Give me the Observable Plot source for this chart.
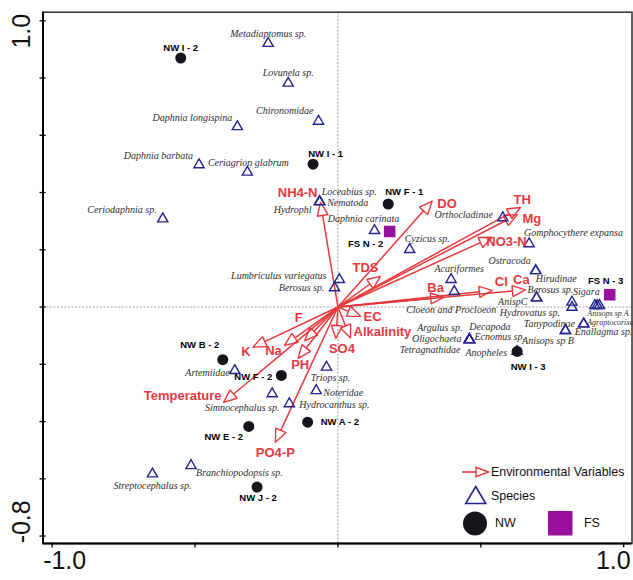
<!DOCTYPE html>
<html>
<head>
<meta charset="utf-8">
<script src="https://cdn.jsdelivr.net/npm/d3@7"></script>
<script src="https://cdn.jsdelivr.net/npm/@observablehq/plot@0.6"></script>
<style>
  body { margin: 0; background: #fff; }
  #chart svg { display: block; }
</style>
</head>
<body>
<div id="chart"></div>
<script>
// ---- Ordination scores (CCA axis 1 / axis 2) ----
const siteNames  = ["NW I - 2", "NW I - 1", "NW F - 1", "FS N - 2", "FS N - 3", "NW I - 3", "NW B - 2", "NW F - 2", "NW E - 2", "NW A - 2", "NW J - 2"];
const siteGroups = ["NW", "NW", "NW", "FS", "FS", "NW", "NW", "NW", "NW", "NW", "NW"];
const siteAxis1  = [-0.550, -0.087, 0.176, 0.181, 0.951, 0.627, -0.403, -0.198, -0.312, -0.106, -0.283];
const siteAxis2  = [0.870, 0.499, 0.360, 0.264, 0.043, -0.155, -0.184, -0.239, -0.417, -0.402, -0.629];

const speciesNames = [
  "Metadiaptomus sp.", "Lovunela sp.", "Chironomidae", "Daphnia longispina", "Daphnia barbata",
  "Ceriagrion glabrum", "Ceriodaphnia sp.", "Loceabius sp.", "Nematoda", "Hydrophl",
  "Daphnia carinata", "Cyzicus sp.", "Orthocladinae", "Gomphocythere expansa", "Ostracoda",
  "Hirudinae", "Acariformes", "Cloeon and Procloeon", "Berosus sp.", "AnispC",
  "Sigara", "Hydrovatus sp.", "Anisops sp A", "Anisops sp A", "Anisops sp A",
  "Agraptocorixa", "Enallagma sp.", "Tanypodinae", "Anisops sp B", "Ecnomus sp.",
  "Decapoda", "Argulus sp.", "Oligochaeta", "Tetragnathidae", "Anopheles",
  "Lumbriculus variegatus", "Berosus sp.", "Triops sp.", "Noteridae", "Hydrocanthus sp.",
  "Simnocephalus sp.", "Artemiidae", "Branchiopodopsis sp.", "Streptocephalus sp."
];
const speciesAxis1 = [
  -0.244, -0.174, -0.068, -0.352, -0.486,
  -0.317, -0.613, -0.064, -0.064, -0.064,
  0.128, 0.251, 0.577, 0.669, 0.692,
  0.692, 0.396, 0.407, 0.695, 0.695,
  0.819, 0.819, 0.899, 0.907, 0.915,
  0.860, 0.860, 0.796, 0.796, 0.460,
  0.460, 0.460, 0.460, 0.460, 0.627,
  0.005, -0.012, -0.040, -0.076, -0.170,
  -0.230, -0.361, -0.514, -0.649
];
const speciesAxis2 = [
  0.921, 0.782, 0.649, 0.630, 0.497,
  0.471, 0.308, 0.368, 0.368, 0.368,
  0.267, 0.201, 0.312, 0.221, 0.127,
  0.127, 0.096, 0.054, 0.032, 0.032,
  0.017, -0.001, 0.005, 0.005, 0.005,
  -0.059, -0.059, -0.082, -0.082, -0.114,
  -0.114, -0.114, -0.114, -0.114, -0.155,
  0.096, 0.067, -0.210, -0.292, -0.338,
  -0.303, -0.222, -0.554, -0.583
];

const envNames = ["NH4-N", "DO", "TH", "Mg", "NO3-N", "TDS", "Ba", "Cl", "Ca", "EC", "Alkalinity", "SO4", "F", "Na", "K", "PH", "Temperature", "PO4-P"];
const envAxis1 = [-0.061, 0.330, 0.639, 0.628, 0.540, 0.149, 0.370, 0.540, 0.656, 0.079, 0.044, -0.007, -0.116, -0.187, -0.297, -0.139, -0.400, -0.219];
const envAxis2 = [0.365, 0.370, 0.348, 0.323, 0.244, 0.107, 0.034, 0.058, 0.060, -0.032, -0.108, -0.110, -0.117, -0.134, -0.140, -0.179, -0.333, -0.472];

// ---- Axis ticks ----
const xTickValues = [-1.0, -0.5, 0, 0.5, 1.0];
const yTickValues = [-0.8, -0.6, -0.4, -0.2, 0, 0.2, 0.4, 0.6, 0.8, 1.0];
const xTickLabels = [{value: -1.0, text: "-1.0"}, {value: 1.0, text: "1.0"}];
const yTickLabels = [{value: 1.0, text: "1.0"}, {value: -0.8, text: "-0.8"}];

// ---- Label placement (text anchor, pixel offset from the point) ----
const siteLabelPlacement = [
  ["middle", 0, -10.5], ["middle", 12.6, -10.5], ["middle", 16, -12], ["middle", -24, 12],
  ["middle", -4, -13.6], ["middle", 11, 16], ["middle", -23, -15], ["end", -9, 1],
  ["middle", -25, 11], ["start", 13, 0], ["middle", 1, 11]
];
const speciesLabelPlacement = [
  ["middle", 0, -10], ["middle", 0, -10], ["end", -5, -10], ["end", -5, -9], ["end", -6, -9],
  ["middle", 1, -9.5], ["end", -6, -9], ["start", 2, -10], ["start", 7.5, 1], ["end", -8, 8],
  ["middle", -11, -12], ["start", -5, -11], ["end", -10, -2.5], ["start", -5, -10.5], ["end", -5, -9.5],
  ["start", 0, 8], ["middle", 8, -11], ["middle", -3, 18], ["start", -9, -8], ["end", -9, 3.5],
  ["start", 1, -10.5], ["end", -12, 5], ["start", -7.5, 8.3], null, null,
  ["start", 3.5, -1.2], ["start", -9, 7.8], ["middle", -16, -7.2], ["middle", -17.5, 10.5], ["start", 5, -3],
  ["middle", 20.5, -12.5], ["end", -7, -11.7], ["end", -8, -0.7], ["end", -9, 10], ["end", -10, 1.7],
  ["end", -13, -3.3], ["end", -10, 0], ["middle", 4, 10.6], ["start", 7, 2.3], ["start", 10, 0.7],
  ["middle", -30, 14], ["end", -5, 1.7], ["start", 5, 7.3], ["middle", 0, 12]
];
const smallSpeciesLabels = new Set(["Anisops sp A", "Agraptocorixa"]);
const envLabelPlacement = [
  ["end", -3, -10], ["start", 5, 2.5], ["start", -7, -8], ["start", 5, 4], ["start", -6, 5],
  ["middle", -15, -9], ["middle", -8, -9], ["middle", 9, -9], ["middle", -4, -10], ["start", 3, 1],
  ["start", 3, -6.5], ["middle", 6, 10], ["middle", -6, -23], ["middle", -11, 5], ["middle", -7, 5],
  ["middle", 2, 6.5], ["end", -2, -6.7], ["middle", 0, 11]
];

// ---- Layout ----
const W = 633, H = 580;
const margin = {top: 11.7, right: 1.5, bottom: 37, left: 42.5};
const xDomain = [-1.032, 1.029];
const yDomain = [-0.826, 1.030];
const kx = (W - margin.left - margin.right) / (xDomain[1] - xDomain[0]); // px per unit
const ky = (H - margin.top - margin.bottom) / (yDomain[1] - yDomain[0]);

const RED = "#e8383d", BLUE = "#24248f", BLACK = "#14161c", PURPLE = "#990f9e", GREY_TEXT = "#2e2e2e";
const SANS = "'Liberation Sans', Arial, sans-serif";
const SERIF = "'Liberation Serif', 'Times New Roman', serif";

// ---- Tables built from the arrays ----
const sites = siteNames.map((name, i) => ({name, group: siteGroups[i], x: siteAxis1[i], y: siteAxis2[i]}));
const species = speciesNames.map((name, i) => ({name, x: speciesAxis1[i], y: speciesAxis2[i]}));
const env = envNames.map((name, i) => ({name, x: envAxis1[i], y: envAxis2[i]}));

function placeLabels(rows, placement) {
  return rows.flatMap((d, i) => {
    const p = placement[i];
    if (!p) return [];
    const [anchor, dx, dy] = p;
    return [{text: d.name, anchor, lx: d.x + dx / kx, ly: d.y - dy / ky}];
  });
}

// Arrow geometry: shaft stops at the base of an open triangular head
const HEAD_LEN = 13, HEAD_HALF = 5.5;
const arrows = env.map(d => {
  const vx = d.x * kx, vy = d.y * ky;
  const len = Math.hypot(vx, vy);
  const ex = vx / len, ey = vy / len;
  const bx = vx - HEAD_LEN * ex, by = vy - HEAD_LEN * ey;
  const nx = -ey, ny = ex;
  return {
    name: d.name,
    baseX: bx / kx, baseY: by / ky,
    head: [
      {name: d.name, x: d.x, y: d.y},
      {name: d.name, x: (bx + HEAD_HALF * nx) / kx, y: (by + HEAD_HALF * ny) / ky},
      {name: d.name, x: (bx - HEAD_HALF * nx) / kx, y: (by - HEAD_HALF * ny) / ky},
      {name: d.name, x: d.x, y: d.y}
    ]
  };
});
const headPoints = arrows.flatMap(a => a.head);

function textMarks(rows, style) {
  return ["start", "middle", "end"].map(anchor =>
    Plot.text(rows.filter(r => r.anchor === anchor), {x: "lx", y: "ly", text: "text", textAnchor: anchor, ...style})
  );
}

const speciesLabels = placeLabels(species, speciesLabelPlacement);

const chart = Plot.plot({
  width: W,
  height: H,
  marginTop: margin.top,
  marginRight: margin.right,
  marginBottom: margin.bottom,
  marginLeft: margin.left,
  x: {domain: xDomain, axis: null},
  y: {domain: yDomain, axis: null},
  style: {background: "#fff", fontFamily: SANS},
  marks: [
    // dashed zero lines
    Plot.ruleX([0], {stroke: "#777", strokeWidth: 0.7, strokeDasharray: "2,1.6"}),
    Plot.ruleY([0], {stroke: "#777", strokeWidth: 0.7, strokeDasharray: "2,1.6"}),

    // environmental variable arrows
    Plot.link(arrows, {x1: () => 0, y1: () => 0, x2: "baseX", y2: "baseY", stroke: RED, strokeWidth: 1.5}),
    Plot.line(headPoints, {x: "x", y: "y", z: "name", stroke: RED, strokeWidth: 1.4, fill: "none", strokeLinejoin: "miter"}),

    // species
    Plot.dot(species, {x: "x", y: "y", symbol: "triangle", r: 3.8, stroke: BLUE, strokeWidth: 1.4, fill: "none"}),

    // sampling sites
    Plot.dot(sites.filter(d => d.group === "NW"), {x: "x", y: "y", r: 5.5, fill: BLACK}),
    Plot.dot(sites.filter(d => d.group === "FS"), {x: "x", y: "y", symbol: "square", r: 6.5, fill: PURPLE}),

    // labels
    ...textMarks(speciesLabels.filter(d => !smallSpeciesLabels.has(d.text)),
      {fontFamily: SERIF, fontStyle: "italic", fontSize: 10, fill: GREY_TEXT}),
    ...textMarks(speciesLabels.filter(d => smallSpeciesLabels.has(d.text)),
      {fontFamily: SERIF, fontStyle: "italic", fontSize: 8, fill: GREY_TEXT}),
    ...textMarks(placeLabels(sites, siteLabelPlacement),
      {fontFamily: SANS, fontWeight: "bold", fontSize: 9.5, fill: "#000"}),
    ...textMarks(placeLabels(env, envLabelPlacement),
      {fontFamily: SANS, fontWeight: "bold", fontSize: 13, fill: RED}),

    // frame, heavier left and bottom axis lines
    Plot.frame({stroke: "#3a3a3a", strokeWidth: 1.6}),
    Plot.ruleX([xDomain[0]], {stroke: "#000", strokeWidth: 2}),
    Plot.ruleY([yDomain[0]], {stroke: "#000", strokeWidth: 2}),

    // tick marks
    Plot.link(yTickValues, {x1: () => xDomain[0] - 3.5 / kx, x2: () => xDomain[0] + 2.5 / kx, y1: d => d, y2: d => d, stroke: "#000", strokeWidth: 1.3}),
    Plot.link(xTickValues, {x1: d => d, x2: d => d, y1: () => yDomain[0] + 1 / ky, y2: () => yDomain[0] - 4 / ky, stroke: "#000", strokeWidth: 1.3}),

    // tick labels
    Plot.text(xTickLabels.filter(d => d.value < 0), {x: "value", text: "text", frameAnchor: "bottom", dy: 25.5, dx: -9, textAnchor: "start", fontSize: 25, fill: "#111"}),
    Plot.text(xTickLabels.filter(d => d.value > 0), {x: "value", text: "text", frameAnchor: "bottom", dy: 25.5, dx: 7, textAnchor: "end", fontSize: 25, fill: "#111"}),
    Plot.text(yTickLabels.filter(d => d.value > 0), {y: "value", text: "text", frameAnchor: "left", dx: -21, dy: -7, rotate: -90, textAnchor: "end", fontSize: 25, fill: "#111"}),
    Plot.text(yTickLabels.filter(d => d.value < 0), {y: "value", text: "text", frameAnchor: "left", dx: -21, dy: 7.3, rotate: -90, textAnchor: "start", fontSize: 25, fill: "#111"})
  ]
});

document.getElementById("chart").append(chart);

// ---- Legend inside the plot, lower right ----
const lg = d3.select(chart).append("g")
  .attr("font-family", SANS)
  .attr("font-size", 12.4)
  .attr("text-anchor", "start")
  .attr("fill", "#111");

lg.append("line").attr("x1", 462).attr("y1", 472).attr("x2", 476).attr("y2", 472)
  .attr("stroke", RED).attr("stroke-width", 1.6);
lg.append("path").attr("d", "M488.5,472L476,467.3L476,476.7Z")
  .attr("fill", "none").attr("stroke", RED).attr("stroke-width", 1.5);
lg.append("text").attr("x", 491).attr("y", 471.5).attr("dy", "0.35em").text("Environmental Variables");

lg.append("path").attr("d", "M475.7,486.5L485.7,503.5L465.7,503.5Z")
  .attr("fill", "none").attr("stroke", BLUE).attr("stroke-width", 1.6);
lg.append("text").attr("x", 491).attr("y", 495.5).attr("dy", "0.35em").text("Species");

lg.append("circle").attr("cx", 475).attr("cy", 523.5).attr("r", 12).attr("fill", BLACK);
lg.append("text").attr("x", 495).attr("y", 522.8).attr("dy", "0.35em").text("NW");

lg.append("rect").attr("x", 548).attr("y", 511).attr("width", 24.5).attr("height", 24.5).attr("fill", PURPLE);
lg.append("text").attr("x", 584).attr("y", 522.8).attr("dy", "0.35em").text("FS");
</script>
</body>
</html>
